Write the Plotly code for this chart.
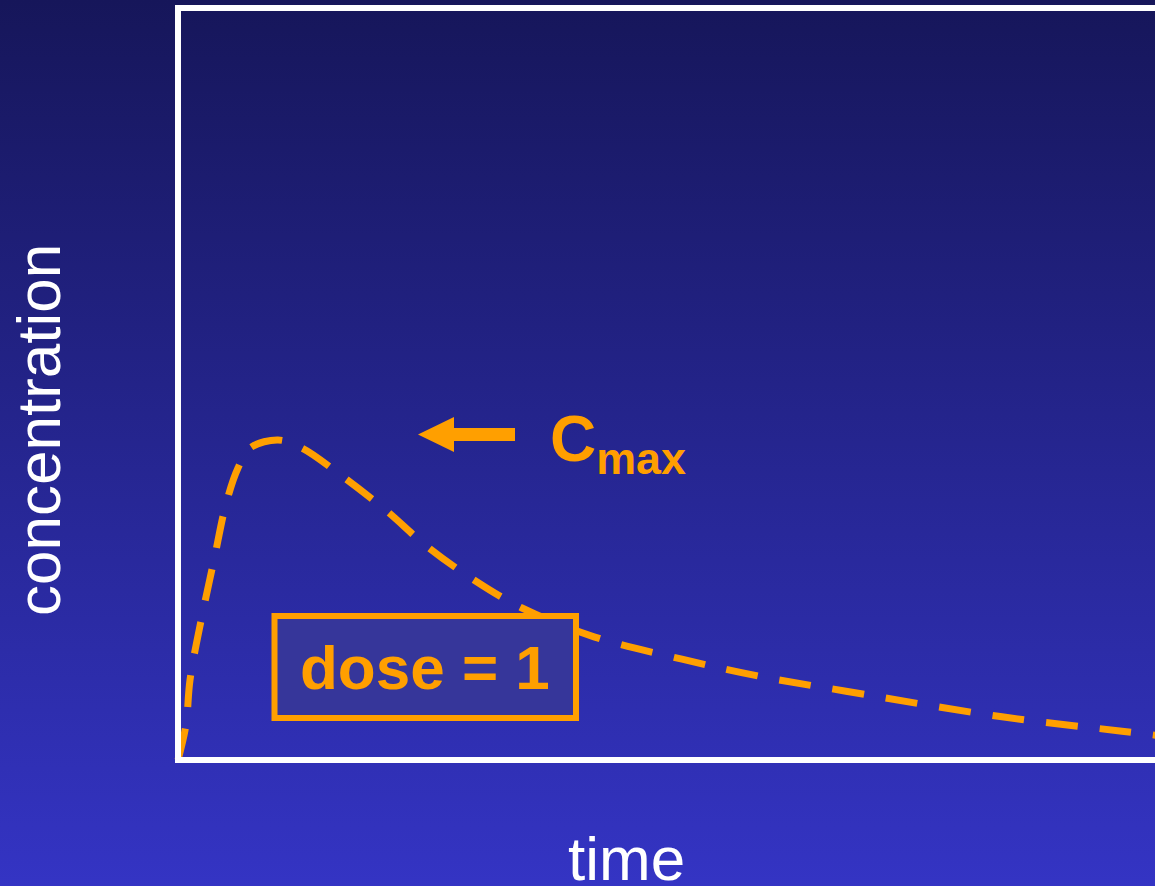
import plotly.graph_objects as go

# concentration-time profile after a single dose
time_h = [0, 0.1, 0.15, 0.3, 0.45, 0.6, 0.75, 0.9, 1.25, 1.55, 2.05, 2.6,
          3.1, 3.7, 4.3, 5.2, 6.3, 7.25, 8.35, 10.3, 11.8, 12.3]
concentration = [0, 0.44, 1.0, 1.8, 2.5, 3.2, 3.65, 3.9, 4.0, 3.9, 3.55, 3.12,
                 2.68, 2.25, 1.9, 1.54, 1.26, 1.05, 0.86, 0.54, 0.36, 0.3]

x_title = "time"
y_title = "concentration"
peak_label = "C<sub>max</sub>"
dose_label = "dose = 1"

W, H = 1155, 886
ORIGIN_X, ORIGIN_Y = 178, 760   # pixel position of (0, 0)
SCALE = 80                      # pixels per unit on both axes
ORANGE = "#FF9F00"
FONT = "Liberation Sans, Arial, sans-serif"


def px(x):
    """Pixel column -> data x."""
    return (x - ORIGIN_X) / SCALE


def py(y):
    """Pixel row -> data y."""
    return (ORIGIN_Y - y) / SCALE


x_range = [px(0), px(W)]
y_range = [py(H), py(0)]

fig = go.Figure()

# background gradient (dark navy at top, brighter blue at bottom)
fig.add_trace(go.Scatter(
    x=[x_range[0], x_range[1], x_range[1], x_range[0], x_range[0]],
    y=[y_range[0], y_range[0], y_range[1], y_range[1], y_range[0]],
    mode="lines", line=dict(width=0), fill="toself",
    fillgradient=dict(type="vertical",
                      colorscale=[[0, "#3434c4"], [1, "#16165a"]]),
    hoverinfo="skip", showlegend=False,
))

fig.add_trace(go.Scatter(
    x=time_h, y=concentration, mode="lines",
    line=dict(color=ORANGE, width=7, dash="32px,22px", shape="spline"),
    hoverinfo="skip", showlegend=False,
))

shapes = [
    # white frame, right side runs off the page
    dict(type="rect", x0=0, x1=px(W + 40), y0=0, y1=py(8),
         line=dict(color="white", width=6), layer="above"),
    # dose box
    dict(type="rect", x0=px(274.5), x1=px(576), y0=py(718), y1=py(616),
         fillcolor="#36369a", line=dict(color=ORANGE, width=6)),
    # arrow to Cmax: shaft + head
    dict(type="rect", x0=px(452), x1=px(515), y0=py(441), y1=py(428),
         fillcolor=ORANGE, line=dict(width=0)),
    dict(type="path",
         path=f"M {px(418)},{py(434.5)} L {px(454)},{py(417)} L {px(454)},{py(452)} Z",
         fillcolor=ORANGE, line=dict(width=0)),
]

annotations = [
    dict(x=px(425), y=py(667), text=f"<b>{dose_label}</b>", showarrow=False,
         font=dict(family=FONT, size=62, color=ORANGE),
         xanchor="center", yanchor="middle"),
    dict(x=px(548), y=py(443), text=f"<b>{peak_label}</b>", showarrow=False,
         font=dict(family=FONT, size=64, color=ORANGE),
         xanchor="left", yanchor="middle"),
    dict(x=px(626), y=py(858), text=x_title, showarrow=False,
         font=dict(family=FONT, size=62, color="white"),
         xanchor="center", yanchor="middle"),
    dict(x=px(38), y=py(430), text=y_title, showarrow=False, textangle=-90,
         font=dict(family=FONT, size=62, color="white"),
         xanchor="center", yanchor="middle"),
]

fig.update_layout(
    width=W, height=H,
    margin=dict(l=0, r=0, t=0, b=0),
    paper_bgcolor="#26269a", plot_bgcolor="#26269a",
    xaxis=dict(range=x_range, visible=False, fixedrange=True),
    yaxis=dict(range=y_range, visible=False, fixedrange=True),
    shapes=shapes, annotations=annotations,
    showlegend=False,
)

# drop the browser's default page margin so the figure fills the window
fig.write_html(
    "out.html",
    config={"displayModeBar": False},
    post_script="document.body.style.margin='0';"
                "document.documentElement.style.overflow='hidden';",
)
